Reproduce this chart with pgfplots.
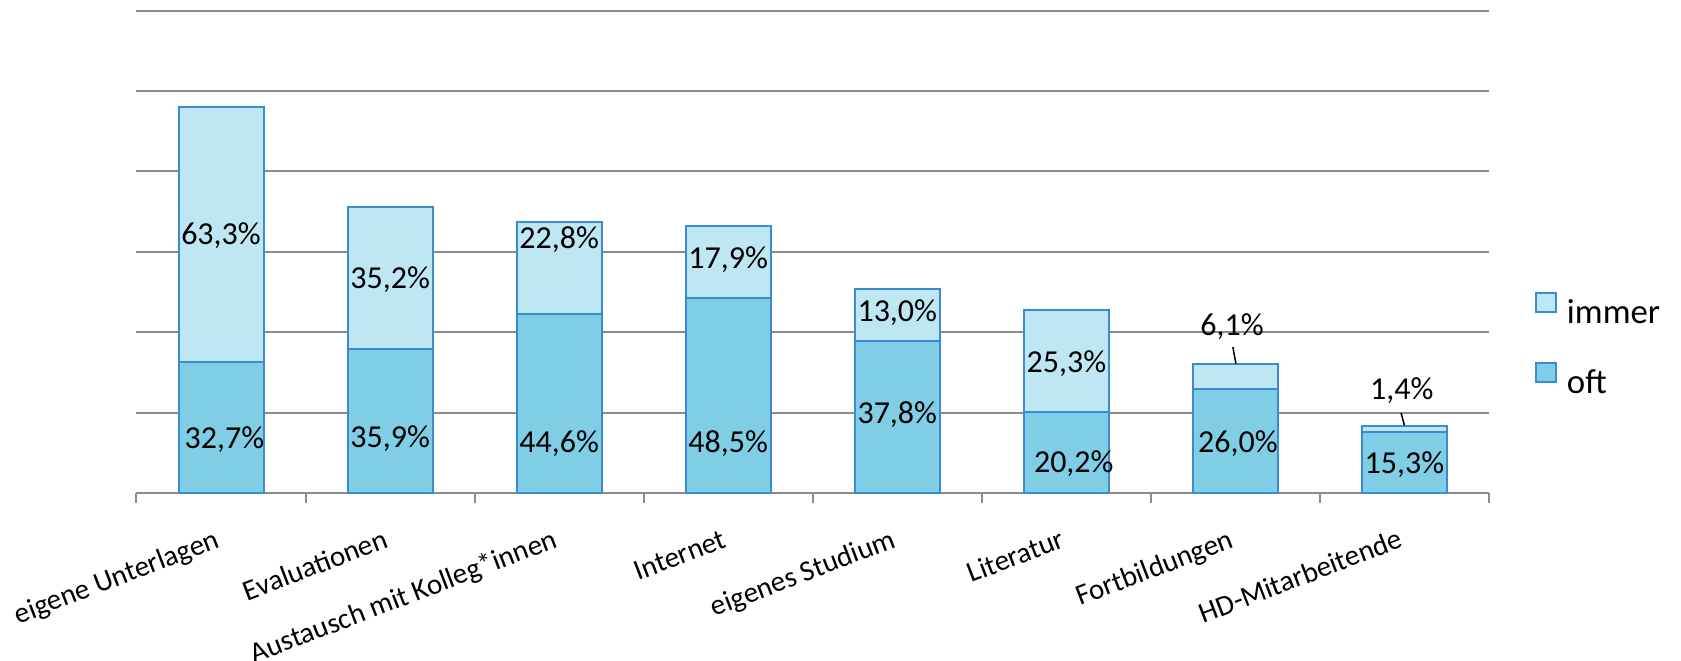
\documentclass[border=0pt]{standalone}
\usepackage{fontspec}
\setmainfont{Carlito}
\usepackage{pgfplots}
\usepackage{pgfplotstable}
\pgfplotsset{compat=1.18}

\definecolor{oftfill}{RGB}{128,205,230}
\definecolor{immerfill}{RGB}{191,230,243}
\definecolor{barline}{RGB}{58,140,210}
\definecolor{gridgray}{RGB}{140,140,140}

\newcommand\lblfont{\fontsize{16}{19}\selectfont}
\newcommand\tickfont{\fontsize{14.5}{17}\selectfont}
\newcommand\legfont{\fontsize{17.4}{20}\selectfont}

% shares per source (percent)
\pgfplotstableread{
x oft immer
0 32.7 63.3
1 35.9 35.2
2 44.6 22.8
3 48.5 17.9
4 37.8 13.0
5 20.2 25.3
6 26.0 6.1
7 15.3 1.4
}\bars

% where the data labels sit
\pgfplotstableread{
x y lab
0.02 13.4 32,7
0 64.0 63,3
1 13.6 35,9
1 53.0 35,2
2 12.2 44,6
2 63.0 22,8
3 12.2 48,5
3 58.0 17,9
4 19.4 37,8
4 45.0 13,0
5.044 7.2 20,2
5 32.2 25,3
6.015 12.2 26,0
5.98 41.3 6,1
7 7.0 15,3
6.984 25.4 1,4
}\labels

\begin{document}
\begin{tikzpicture}
\begin{axis}[
    name=ax,
    width=676.25pt, height=241.15pt, scale only axis,
    xmin=-0.5, xmax=7.5, ymin=0, ymax=120,
    ybar stacked, bar width=42.5pt,
    axis lines*=left,
    y axis line style={draw=none},
    x axis line style={gridgray, line width=1pt},
    xtick={0,...,7},
    xticklabels={eigene Unterlagen, Evaluationen, Austausch mit Kolleg*innen, Internet, eigenes Studium, Literatur, Fortbildungen, HD-Mitarbeitende},
    major x tick style={draw=none},
    minor xtick={-0.5,0.5,...,7.5},
    minor x tick style={gridgray, line width=1pt},
    minor tick length=4.75pt,
    tick align=outside,
    xticklabel style={rotate=21, anchor=base east, inner sep=0pt, font=\tickfont},
    xticklabel shift=22.5pt,
    ytick={20,40,...,120},
    yticklabels={},
    ytick style={draw=none},
    ymajorgrids,
    grid style={gridgray, line width=1pt},
    reverse legend,
    legend cell align=left,
    legend image code/.code={\draw[#1] (0pt,0.25pt) rectangle (10pt,10pt);},
    legend style={at={(1.034,0.4168)}, anchor=north west, draw=none, fill=none,
        inner sep=0pt, outer sep=0pt, row sep=19pt, column sep=5pt, font=\legfont,
        nodes={inner sep=0pt, text height=11pt, text depth=0pt}},
]
\addplot[fill=oftfill, draw=barline, line width=1pt] table[x=x, y=oft]{\bars};
\addplot[fill=immerfill, draw=barline, line width=1pt] table[x=x, y=immer]{\bars};
\legend{oft, immer}
\end{axis}

\begin{axis}[
    width=676.25pt, height=241.15pt, scale only axis,
    xmin=-0.5, xmax=7.5, ymin=0, ymax=120,
    hide axis, clip=false,
]
\addplot[only marks, mark=*, mark size=0pt, mark options={draw=none, fill=none},
    nodes near coords={\pgfplotspointmeta\%}, point meta=explicit symbolic,
    every node near coord/.append style={anchor=center, font=\lblfont, inner sep=0pt, text=black}]
    table[x=x, y=y, meta=lab]{\labels};
% leader lines for the two small segments
\addplot[black, line width=0.75pt] coordinates {(5.985,36.3) (6.003,32.2)};
\addplot[black, line width=0.75pt] coordinates {(6.98,19.9) (7.0,16.8)};
\end{axis}

\pgfresetboundingbox
\path[use as bounding box] (ax.south west) ++(-68.25pt,-83.5pt) rectangle ++(840.5pt,330pt);
\end{tikzpicture}
\end{document}
